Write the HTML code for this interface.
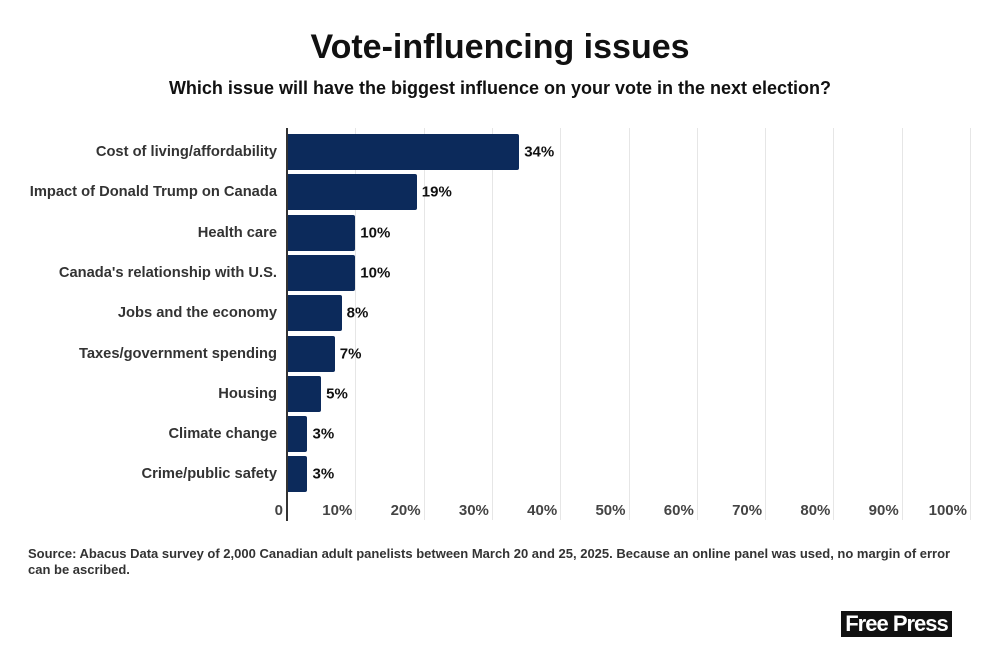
<!DOCTYPE html>
<html><head><style>
body{margin:0;width:1000px;height:656px;background:#fff;font-family:"Liberation Sans",sans-serif;position:relative;overflow:hidden}
.t{position:absolute;left:0;width:1000px;text-align:center;font-weight:bold;color:#111}
.lab{position:absolute;right:723px;font-size:14.7px;font-weight:bold;color:#333;transform:translateY(-50%);white-space:nowrap}
.bar{position:absolute;left:287px;height:36px;background:#0c2a5b;border-radius:0 2px 2px 0}
.val{position:absolute;font-size:15px;font-weight:bold;color:#111;transform:translateY(-50%)}
.g{position:absolute;top:128px;height:392px;width:1px;background:#e6e6e6}
.tk{position:absolute;top:502px;font-size:15px;font-weight:bold;color:#444;transform:translateX(-100%)}
</style></head><body>
<div class="t" style="top:28px;font-size:34px">Vote-influencing issues</div>
<div class="t" style="top:78px;font-size:18px">Which issue will have the biggest influence on your vote in the next election?</div>
<div id="c"></div>
<div style="position:absolute;left:286px;top:128px;width:2px;height:393px;background:#333"></div>
<div style="position:absolute;left:28px;top:546px;width:935px;font-size:13px;font-weight:bold;color:#333;line-height:16px">Source: Abacus Data survey of 2,000 Canadian adult panelists between March 20 and 25, 2025. Because an online panel was used, no margin of error can be ascribed.</div>
<div style="position:absolute;left:841px;top:611px;width:111px;height:26px;background:#111;color:#fff;font-weight:bold;font-size:22px;line-height:26px;text-align:center;letter-spacing:-1px">Free Press</div>
<script>
var d=[["Cost of living/affordability",34],["Impact of Donald Trump on Canada",19],["Health care",10],["Canada's relationship with U.S.",10],["Jobs and the economy",8],["Taxes/government spending",7],["Housing",5],["Climate change",3],["Crime/public safety",3]];
var h="",s=6.83;
for(var i=1;i<=10;i++){var x=287+i*s*10;h+='<div class="g" style="left:'+x+'px"></div><div class="tk" style="left:'+(x-3)+'px">'+(i*10)+'%</div>';}
h+='<div class="tk" style="left:283px">0</div>';
d.forEach(function(r,i){var y=152+i*40.3;var w=r[1]*s;
h+='<div class="lab" style="top:'+y+'px">'+r[0]+'</div><div class="bar" style="top:'+(y-18)+'px;width:'+w+'px"></div><div class="val" style="top:'+y+'px;left:'+(287+w+5)+'px">'+r[1]+'%</div>';});
document.getElementById("c").innerHTML=h;
</script>
</body></html>
